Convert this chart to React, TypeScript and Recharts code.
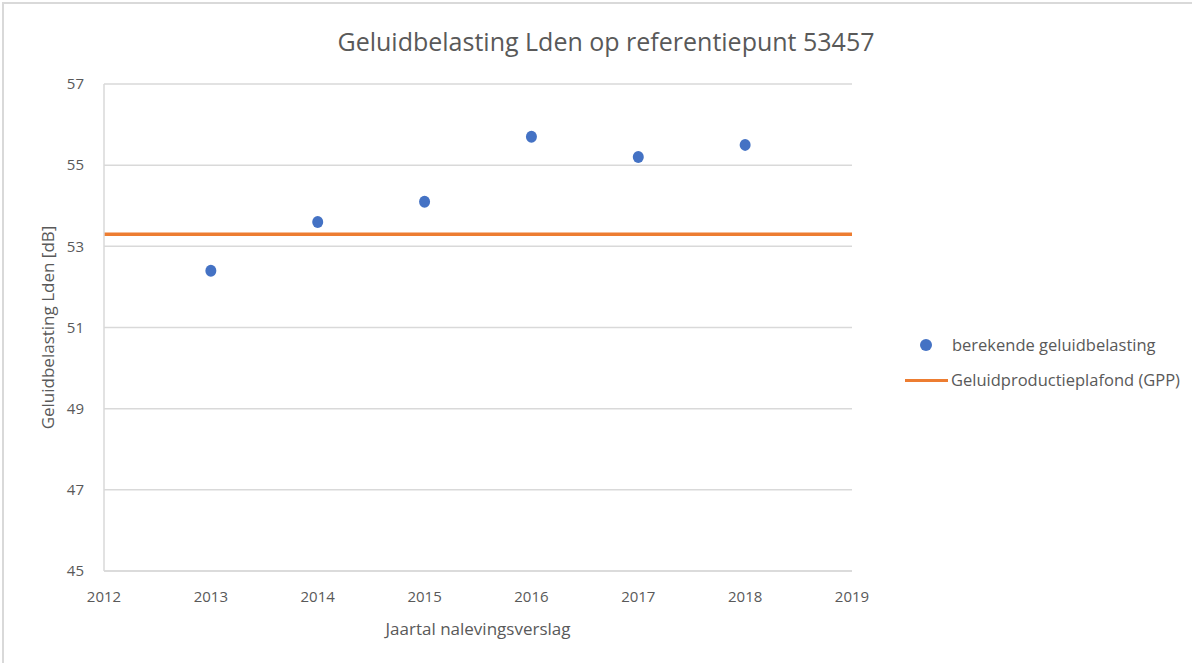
import {
  ComposedChart,
  Scatter,
  XAxis,
  YAxis,
  CartesianGrid,
  ReferenceLine,
  Label,
} from "recharts";

const years = [2013, 2014, 2015, 2016, 2017, 2018];
const lden = [52.4, 53.6, 54.1, 55.7, 55.2, 55.5];
const gpp = 53.3;
const xTicks = [2012, 2013, 2014, 2015, 2016, 2017, 2018, 2019];
const yTicks = [45, 47, 49, 51, 53, 55, 57];

const points = years.map((year, i) => ({ year, lden: lden[i] }));

const font = "'Open Sans', 'Noto Sans', sans-serif";
const textColor = "#595959";

export default function App() {
  return (
    <div
      style={{
        position: "absolute",
        left: 0,
        top: 0,
        width: 1192,
        height: 663,
        overflow: "hidden",
        background: "#fff",
        fontFamily: font,
      }}
    >
      <div
        style={{
          position: "absolute",
          left: 2,
          top: 2,
          width: 1300,
          height: 800,
          border: "2px solid #d9d9d9",
        }}
      />
      <div
        style={{
          position: "absolute",
          left: 0,
          width: 1212,
          top: 24,
          textAlign: "center",
          fontSize: 25,
          color: textColor,
        }}
      >
        Geluidbelasting Lden op referentiepunt 53457
      </div>
      <div style={{ position: "absolute", left: 0, top: 0 }}>
        <ComposedChart
          width={1192}
          height={663}
          margin={{ top: 84, right: 340, bottom: 32, left: 34 }}
        >
          <CartesianGrid vertical={false} stroke="#d9d9d9" strokeWidth={1.5} />
          <XAxis
            type="number"
            dataKey="year"
            domain={[2012, 2019]}
            ticks={xTicks}
            interval={0}
            tickLine={false}
            axisLine={{ stroke: "#d9d9d9", strokeWidth: 1.5 }}
            tick={{ fill: textColor, fontSize: 15, fontFamily: font }}
            tickMargin={14}
            height={60}
          >
            <Label
              value="Jaartal nalevingsverslag"
              position="insideBottom"
              offset={-4}
              fill={textColor}
              fontSize={17}
              fontFamily={font}
            />
          </XAxis>
          <YAxis
            type="number"
            domain={[45, 57]}
            ticks={yTicks}
            interval={0}
            tickLine={false}
            axisLine={{ stroke: "#d9d9d9", strokeWidth: 1.5 }}
            tick={{ fill: textColor, fontSize: 15, fontFamily: font }}
            tickMargin={14}
            width={70}
          >
            <Label
              value="Geluidbelasting Lden [dB]"
              angle={-90}
              position="insideLeft"
              offset={14}
              style={{ textAnchor: "middle" }}
              fill={textColor}
              fontSize={17}
              fontFamily={font}
            />
          </YAxis>
          <ReferenceLine y={gpp} stroke="#ED7D31" strokeWidth={3.5} />
          <Scatter
            data={points}
            dataKey="lden"
            fill="#4472C4"
            shape={(p: any) => (
              <ellipse cx={p.cx} cy={p.cy} rx={5.5} ry={6} fill="#4472C4" />
            )}
            isAnimationActive={false}
          />
        </ComposedChart>
      </div>
      <div
        style={{
          position: "absolute",
          left: 905,
          top: 333,
          fontSize: 16.5,
          color: textColor,
          lineHeight: "24px",
        }}
      >
        <div style={{ display: "flex", alignItems: "center", height: 24 }}>
          <span
            style={{
              display: "inline-block",
              width: 12,
              height: 12,
              borderRadius: 6,
              background: "#4472C4",
              marginLeft: 15,
              marginRight: 20,
            }}
          />
          berekende geluidbelasting
        </div>
        <div
          style={{
            display: "flex",
            alignItems: "center",
            height: 24,
            marginTop: 11,
          }}
        >
          <span
            style={{
              display: "inline-block",
              width: 43,
              height: 3,
              background: "#ED7D31",
              marginRight: 3,
            }}
          />
          Geluidproductieplafond (GPP)
        </div>
      </div>
    </div>
  );
}
